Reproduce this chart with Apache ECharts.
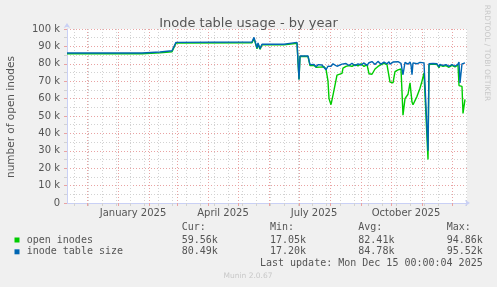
<!DOCTYPE html>
<html><head><meta charset="utf-8">
<script src="https://cdn.jsdelivr.net/npm/echarts@6/dist/echarts.min.js"></script>
<style>html,body{margin:0;padding:0;background:#F0F0F0;}#c{width:497px;height:287px;}</style>
</head><body><div id="c"></div>
<script>
// ---- data ----
const startDate = '2024-11-11';   // first day at the left edge of the plot
const dayCount = 401;
const monthNames = ['January','February','March','April','May','June','July','August','September','October','November','December'];
const labelMonths = [0, 3, 6, 9];  // quarter labels, centred mid-month
const dayIdx = [0,75,76,93,94,105,107,109,185,187,188,190,191,193,195,217,219,230,232,233,241,243,245,247,249,251,253,255,257,259,261,262,264,266,270,275,276,279,282,285,288,291,294,297,300,302,305,308,311,314,317,320,322,323,326,328,331,334,336,338,341,343,344,345,346,350,353,355,357,359,361,362,366,370,372,373,376,379,382,385,388,391,392,393,395,396,398];
const tableSize = [86200,86200,86800,86800,87500,87500,88000,92300,92500,95200,95500,89000,92000,88700,91200,91200,92300,92300,71000,84500,84500,79500,78600,79600,78300,79500,78400,79300,78700,76600,78600,79600,78500,80000,78600,79800,78800,80200,79000,80300,78900,80000,79300,80500,79100,80600,81300,79600,81400,79800,81000,80000,81200,79800,81000,80000,81200,80300,73700,80800,79800,81000,79500,73700,80500,80000,80800,80000,80500,79600,30000,80000,80200,80000,78200,79700,79000,79500,78500,79600,78600,79800,81000,69000,80000,80200,80490];
const openInodes = [85800,85800,86300,86300,86900,86900,87400,91900,92100,94600,94800,88600,91500,88300,90900,90900,91800,91800,71000,84200,84200,79000,78200,79200,78000,79100,78100,78900,78300,77000,70000,60000,56500,62000,73500,74500,77500,78500,79000,78500,79500,78800,80000,78500,79500,74300,74000,77000,78500,79500,80200,79500,80500,69500,69000,75500,76500,77000,50500,60000,62500,69000,70000,58000,56500,61300,66000,70000,74700,75600,25000,79500,79800,79500,77800,79300,78500,79000,78000,79100,78200,79300,67500,67000,67000,51500,59560];
const seriesNames = ['open inodes', 'inode table size'];
const seriesColors = ['#00CC00', '#0066B3'];
const statHeaders = ['Cur:', 'Min:', 'Avg:', 'Max:'];
const statsOpen = ['59.56k', '17.05k', '82.41k', '94.86k'];
const statsTable = ['80.49k', '17.20k', '84.78k', '95.52k'];
const lastUpdate = 'Last update: Mon Dec 15 00:00:04 2025';
const yTicks = [0,10000,20000,30000,40000,50000,60000,70000,80000,90000,100000];

// ---- categories (one per day) ----
const days = [];
const d0 = new Date(startDate + 'T00:00:00Z');
for (let i = 0; i < dayCount; i++) {
  const d = new Date(d0.getTime() + i * 86400000);
  days.push(d.toISOString().slice(0, 10));
}
const isMonthStart = (i, v) => v.slice(8, 10) === '01';
const isMinor = (i) => i % 14 === 7;
const isLabel = (i, v) => v.slice(8, 10) === '16' && labelMonths.indexOf(+v.slice(5, 7) - 1) >= 0;

const RED = '#E9A3A3', GRAY = '#D2D2D2', AX = '#C9D0F5', FONT = '#555';
const chart = echarts.init(document.getElementById('c'), null, {renderer: 'canvas'});
const mono = '10px "DejaVu Sans Mono"';
const graphics = [
  {type:'text', x:11, y:117, rotation:Math.PI/2, style:{text:'number of open inodes', font:'10.5px "DejaVu Sans"', fill:FONT, textAlign:'center', textVerticalAlign:'middle'}},
  {type:'text', x:487, y:53, rotation:-Math.PI/2, style:{text:'RRDTOOL / TOBI OETIKER', font:'7.5px "DejaVu Sans"', fill:'#C8C8C8', textAlign:'center', textVerticalAlign:'middle'}},
  {type:'text', x:482.7, y:263.5, style:{text:lastUpdate, font:mono, fill:FONT, textAlign:'right', textVerticalAlign:'middle'}},
  {type:'text', x:248, y:276, style:{text:'Munin 2.0.67', font:'7.5px "DejaVu Sans"', fill:'#C8C8C8', textAlign:'center', textVerticalAlign:'middle'}}
];
const colX = [181.7, 270, 358.3, 446.7];
statHeaders.forEach((h, i) => graphics.push({type:'text', x:colX[i], y:227.5, style:{text:h, font:mono, fill:FONT, textVerticalAlign:'middle'}}));
[[statsOpen, 240], [statsTable, 251.8]].forEach(([arr, y], r) => {
  graphics.push({type:'rect', shape:{x:14.5, y:y - 2.5, width:5, height:5}, style:{fill:seriesColors[r]}});
  graphics.push({type:'text', x:26.7, y:y, style:{text:seriesNames[r], font:mono, fill:FONT, textVerticalAlign:'middle'}});
  arr.forEach((v, i) => graphics.push({type:'text', x:colX[i], y:y, style:{text:v, font:mono, fill:FONT, textVerticalAlign:'middle'}}));
});

chart.setOption({
  animation: false,
  backgroundColor: '#F0F0F0',
  title: {text:'Inode table usage - by year', left:'center', top:12, textStyle:{fontSize:13, fontWeight:'normal', color:FONT, fontFamily:'DejaVu Sans'}},
  grid: {left:67, right:30, top:29, bottom:84, show:true, backgroundColor:'#FFFFFF', borderWidth:0},
  xAxis: [
    {type:'category', data:days, boundaryGap:false, position:'bottom',
     axisLine:{show:false}, axisLabel:{show:false},
     axisTick:{show:true, interval:isMinor, length:3, lineStyle:{color:GRAY}},
     splitLine:{show:true, interval:isMinor, lineStyle:{color:GRAY, type:[1,2], width:1}}},
    {type:'category', data:days, boundaryGap:false, position:'bottom',
     axisLine:{show:true, lineStyle:{color:AX, width:1}, symbol:['none','arrow'], symbolSize:[5,5], symbolOffset:[0,3]},
     axisTick:{show:true, interval:isMonthStart, length:3, lineStyle:{color:RED}},
     axisLabel:{show:true, interval:isLabel, margin:5, color:FONT, fontSize:10, fontFamily:'DejaVu Sans',
       formatter:(v) => monthNames[+v.slice(5, 7) - 1] + ' ' + v.slice(0, 4)},
     splitLine:{show:true, interval:isMonthStart, lineStyle:{color:RED, type:[1,2], width:1}}}
  ],
  yAxis: {type:'value', min:yTicks[0], max:yTicks[yTicks.length - 1], interval:10000,
    axisLine:{show:true, lineStyle:{color:AX, width:1}, symbol:['none','arrow'], symbolSize:[5,5], symbolOffset:[0,6]},
    axisTick:{show:true, length:3, lineStyle:{color:RED}},
    minorTick:{show:true, splitNumber:2, length:3, lineStyle:{color:GRAY}},
    axisLabel:{color:FONT, fontSize:10, fontFamily:'DejaVu Sans', margin:7,
      formatter:(v) => v === 0 ? '0' : (v / 1000) + ' k'},
    splitLine:{show:true, lineStyle:{color:RED, type:[1,2], width:1}},
    minorSplitLine:{show:true, lineStyle:{color:GRAY, type:[1,2], width:1}}},
  series: [
    {name:seriesNames[0], type:'line', xAxisIndex:1, showSymbol:false, symbol:'none',
     data:dayIdx.map((d, i) => [d, openInodes[i]]), lineStyle:{color:seriesColors[0], width:1.4}, z:3},
    {name:seriesNames[1], type:'line', xAxisIndex:1, showSymbol:false, symbol:'none',
     data:dayIdx.map((d, i) => [d, tableSize[i]]), lineStyle:{color:seriesColors[1], width:1.4}, z:4}
  ],
  graphic: graphics
});
</script></body></html>
